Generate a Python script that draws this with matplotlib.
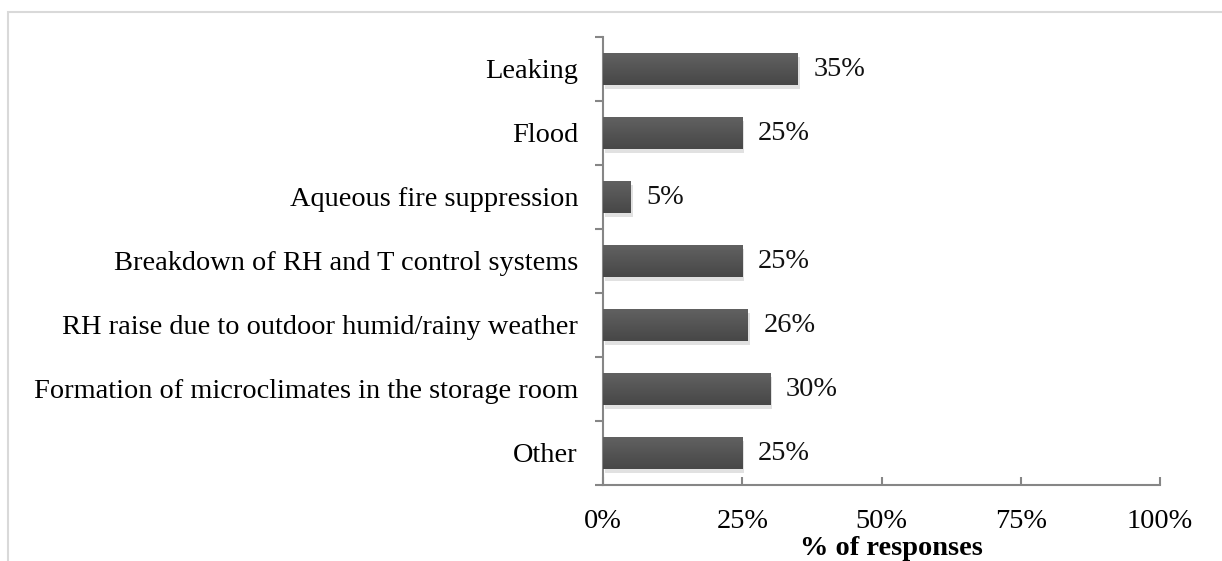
import matplotlib
matplotlib.use("Agg")
import matplotlib.pyplot as plt
from matplotlib.patches import Rectangle
from matplotlib.colors import LinearSegmentedColormap
import matplotlib.patheffects as pe
import numpy as np

categories = ["Leaking", "Flood", "Aqueous fire suppression",
              "Breakdown of RH and T control systems",
              "RH raise due to outdoor humid/rainy weather",
              "Formation of microclimates in the storage room", "Other"]
values = [35, 25, 5, 25, 26, 30, 25]
xticks = [0, 25, 50, 75, 100]
xticklabels = ["0%", "25%", "50%", "75%", "100%"]

plt.rcParams['font.family'] = ['Liberation Serif', 'DejaVu Serif']
FS = 20.4

fig = plt.figure(figsize=(12.22, 5.61), dpi=100)
ax = fig.add_axes([603/1222, (561-485)/561, (1160-603)/1222, (485-37)/561])

n = len(categories)
ypos = list(range(n))[::-1]
bars = ax.barh(ypos, values, height=0.5, color="#555555", zorder=3)
grad = np.linspace(0, 1, 64).reshape(-1, 1)
cmap = LinearSegmentedColormap.from_list("g", ["#474747", "#616161"])
for b in bars:
    b.set_path_effects([pe.SimplePatchShadow(offset=(1.5, -3), shadow_rgbFace="#b5b5b5", alpha=0.4), pe.Normal()])
    x0, y0, w, h = b.get_x(), b.get_y(), b.get_width(), b.get_height()
    im = ax.imshow(grad, extent=(x0, x0 + w, y0, y0 + h), origin="lower", cmap=cmap,
                   aspect="auto", zorder=4, interpolation="bilinear")
    im.set_clip_path(b)

for y, v in zip(ypos, values):
    ax.text(v + 2.8, y, f"{v}%", va="center", ha="left", fontsize=FS, color="#111111")

ax.set_xlim(0, 100)
ax.set_ylim(-0.5, n - 0.5)
ax.set_xticks(xticks)
ax.set_xticklabels(xticklabels, fontsize=FS)
ax.set_yticks(ypos)
ax.set_yticklabels(categories, fontsize=FS)
ax.set_yticks([i - 0.5 for i in range(n + 1)], minor=True)
ax.tick_params(axis="y", which="major", length=0, pad=18)
ax.tick_params(axis="y", which="minor", length=6, direction="out", color="#868686", width=1.5)
ax.tick_params(axis="x", length=6, direction="in", color="#868686", width=1.5, pad=17)
for s in ["top", "right"]:
    ax.spines[s].set_visible(False)
for s in ["left", "bottom"]:
    ax.spines[s].set_color("#868686")
    ax.spines[s].set_linewidth(1.5)
ax.set_xlabel("% of responses", fontsize=FS, fontweight="bold")
ax.xaxis.set_label_coords(0.517, (485 - 536) / 448)

fig.patches.append(Rectangle((8/1222, -0.1), 1.2, (561-12)/561 + 0.1, transform=fig.transFigure,
                             fill=False, edgecolor="#d9d9d9", linewidth=1.5))

fig.savefig("out.png", dpi=100)
